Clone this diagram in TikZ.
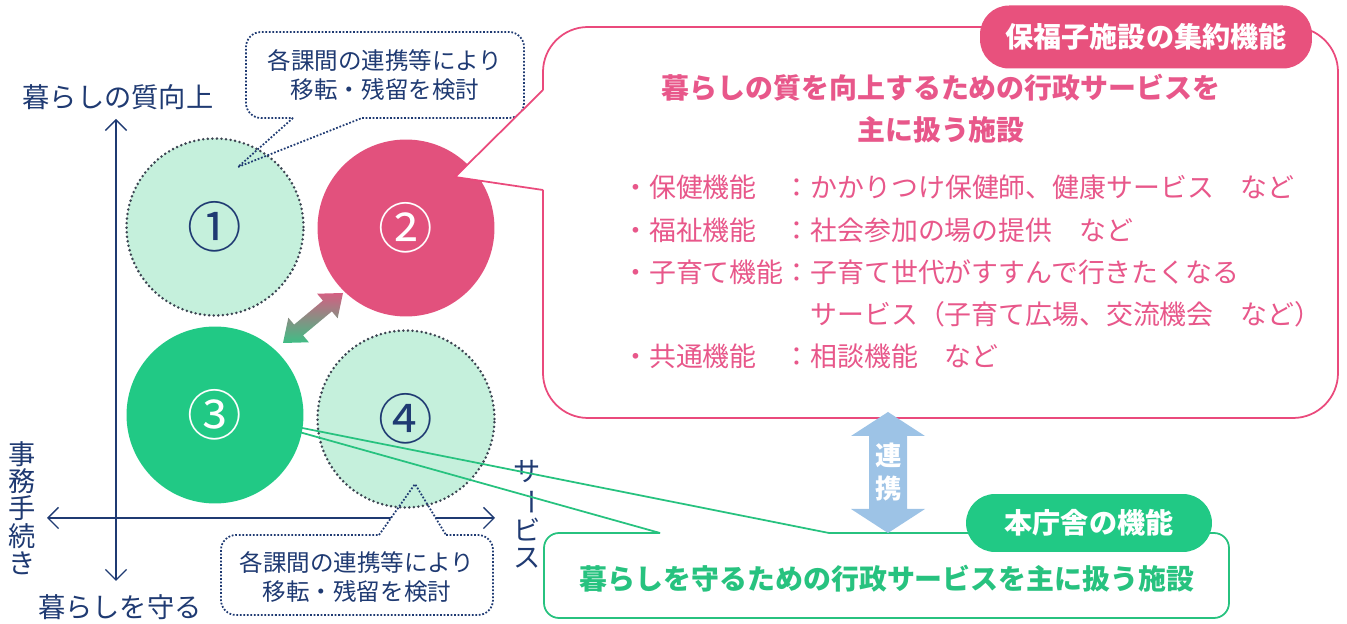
\documentclass[tikz,border=0pt]{standalone}
\usepackage{fontspec}
\setmainfont{Noto Sans CJK JP}
\usepackage{graphicx}
\usetikzlibrary{arrows.meta, calc}
\definecolor{lifenavy}{HTML}{1F3A72}
\definecolor{lifepink}{HTML}{E2517D}
\definecolor{tagpink}{HTML}{E8517D}
\definecolor{linepink}{HTML}{EA4A7C}
\definecolor{textpink}{HTML}{E8578A}
\definecolor{deskgreen}{HTML}{21C985}
\definecolor{textgreen}{HTML}{27C27F}
\definecolor{palegreen}{HTML}{C5F0DC}
\definecolor{ringgrey}{HTML}{3C4452}
\definecolor{linkblue}{HTML}{9DC3E6}
\definecolor{gradpink}{HTML}{D45F82}
\definecolor{gradgreen}{HTML}{3EBE85}
\tikzset{
  ring/.style={circle, minimum size=3.54cm, inner sep=0pt, font=\fontsize{31}{31}\selectfont},
  dotring/.style={ring, fill=palegreen, draw=ringgrey, line width=1.6pt, dash pattern=on 0pt off 2.6pt, line cap=round, text=lifenavy},
  solidring/.style={ring, text=white},
  axisline/.style={lifenavy, line width=0.8pt, >={Straight Barb[length=6pt,width=12pt]}, <->},
  notebox/.style={lifenavy, line width=1pt, dash pattern=on 1pt off 1pt},
  tagbox/.style={rounded corners=0.58cm, text=white, inner sep=0pt, font=\fontsize{16}{16}\selectfont\bfseries},
}

\begin{document}
\begin{tikzpicture}[x=0.02cm, y=-0.02cm]
  \useasboundingbox (0,0) rectangle (1347,624);

  % Axes
  \coordinate (vtop) at (116,119);
  \coordinate (vbot) at (116,581);
  \coordinate (hleft) at (47,518);
  \coordinate (hright) at (495,518);
  \draw[axisline] (vbot) -- (vtop);
  \draw[axisline] (hleft) -- (hright);

  \node[lifenavy, font=\fontsize{15.5}{15.5}\selectfont] (lup) at (118,97) {暮らしの質向上};
  \node[lifenavy, font=\fontsize{15.5}{15.5}\selectfont] (ldown) at (120,607) {暮らしを守る};
  \node[lifenavy, align=center, inner sep=0pt, font=\fontsize{15.5}{15.5}\selectfont] (lleft) at (22,508) {事\\務\\手\\続\\き};
  \node[lifenavy, align=center, inner sep=0pt, font=\fontsize{15.5}{15.5}\selectfont] (lright) at (527,514) {サ\\\rotatebox[origin=c]{-90}{ー}\\ビ\\ス};

  % Note below circle 4 (white ground)
  \coordinate (n4a) at (379,535);
  \coordinate (n4b) at (446,535);
  \coordinate (n4tip) at (415,484);
  \fill[white, rounded corners=0.3cm] (221,535) rectangle (493,615);
  \fill[white] (n4a) -- (n4tip) -- (n4b) -- cycle;

  % Circles
  \node[dotring] (c1) at (215,227) {①};
  \node[solidring, fill=lifepink] (c2) at (406,228) {②};
  \node[dotring] (c4) at (406,419) {④};

  % Notes
  \coordinate (n1a) at (293,118);
  \coordinate (n1b) at (362,118);
  \coordinate (n1tip) at (238,167);
  \draw[notebox, rounded corners=0.3cm] (n1b) -- (524,118) -- (524,32) -- (246,32) -- (246,118) -- (n1a);
  \draw[notebox] (n1a) -- (n1tip) -- (n1b);
  \node[lifenavy, align=center, font=\fontsize{13.4}{17}\selectfont] (note1) at (385,75) {各課間の連携等により\\移転・残留を検討};

  \draw[notebox, rounded corners=0.3cm] (n4b) -- (493,535) -- (493,615) -- (221,615) -- (221,535) -- (n4a);
  \draw[notebox] (n4a) -- (n4tip) -- (n4b);
  \node[lifenavy, align=center, font=\fontsize{13.4}{17}\selectfont] (note4) at (357,577) {各課間の連携等により\\移転・残留を検討};

  % Pink callout
  \coordinate (p2a) at (543,90);
  \coordinate (p2b) at (543,190);
  \coordinate (p2tip) at (455,177);
  \fill[white, rounded corners=0.9cm] (543,27) rectangle (1338,418);
  \fill[white] (p2a) -- (p2tip) -- (p2b) -- cycle;
  \draw[linepink, line width=1pt, rounded corners=0.9cm] (p2a) -- (543,27) -- (1338,27) -- (1338,418) -- (543,418) -- (p2b);
  \draw[linepink, line width=1pt] (p2a) -- (p2tip) -- (p2b);
  \node[tagbox, fill=tagpink, minimum width=6.64cm, minimum height=1.26cm] (pinktag) at (1146,37) {保福子施設の集約機能};
  \node[textpink, align=center, font=\fontsize{15.9}{23.8}\selectfont\bfseries] (pinkhead) at (941,109) {暮らしの質を向上するための行政サービスを\\主に扱う施設};
  \node[textpink, anchor=base west, inner sep=0pt, font=\fontsize{15.3}{24}\selectfont] (pinklist) at (622,198) {%
    \begin{tabular}[t]{@{}l@{}l@{}l@{}l@{}}
    ・&保健機能&：&かかりつけ保健師、健康サービス　など\\
    ・&福祉機能&：&社会参加の場の提供　など\\
    ・&子育て機能&：&子育て世代がすすんで行きたくなる\\
    &&&サービス（子育て広場、交流機会　など）\\
    ・&共通機能&：&相談機能　など
    \end{tabular}};

  % Green callout
  \coordinate (g3a) at (660,533);
  \coordinate (g3b) at (829,533);
  \coordinate (g3tip) at (242,416);
  \draw[textgreen, line width=1pt, rounded corners=0.3cm] (g3b) -- (1229,533) -- (1229,618) -- (544,618) -- (544,533) -- (g3a);
  \draw[textgreen, line width=1pt] (g3a) -- (g3tip) -- (g3b);
  \node[textgreen, font=\fontsize{15.9}{15.9}\selectfont\bfseries] (greentext) at (887,579) {暮らしを守るための行政サービスを主に扱う施設};

  % Circle 3 on top of the tail
  \node[solidring, fill=deskgreen] (c3) at (215,415) {③};

  % Link arrow between 2 and 3
  \coordinate (ga) at (283,343);
  \coordinate (gb) at (343,293);
  \shade[top color=gradpink, bottom color=gradgreen]
    (ga) -- ($(ga)!0.26!(gb)!0.32cm!90:(gb)$) -- ($(ga)!0.26!(gb)!0.14cm!90:(gb)$)
    -- ($(gb)!0.26!(ga)!0.14cm!-90:(ga)$) -- ($(gb)!0.26!(ga)!0.32cm!-90:(ga)$)
    -- (gb) -- ($(gb)!0.26!(ga)!0.32cm!90:(ga)$) -- ($(gb)!0.26!(ga)!0.14cm!90:(ga)$)
    -- ($(ga)!0.26!(gb)!0.14cm!-90:(gb)$) -- ($(ga)!0.26!(gb)!0.32cm!-90:(gb)$) -- cycle;

  % Link arrow between the two callouts
  \coordinate (ba) at (888,412);
  \coordinate (bb) at (888,533);
  \fill[linkblue] (ba) -- ++(37,24) -- ++(-18,0) -- ++(0,73) -- ++(18,0) -- (bb)
    -- ++(-37,-24) -- ++(18,0) -- ++(0,-73) -- ++(-18,0) -- cycle;
  \node[white, align=center, inner sep=0pt, font=\fontsize{15}{18.7}\selectfont\bfseries] (linktext) at (889,472) {連\\携};

  \node[tagbox, fill=deskgreen, minimum width=4.92cm, minimum height=1.16cm] (greentag) at (1089,523) {本庁舎の機能};
\end{tikzpicture}
\end{document}
